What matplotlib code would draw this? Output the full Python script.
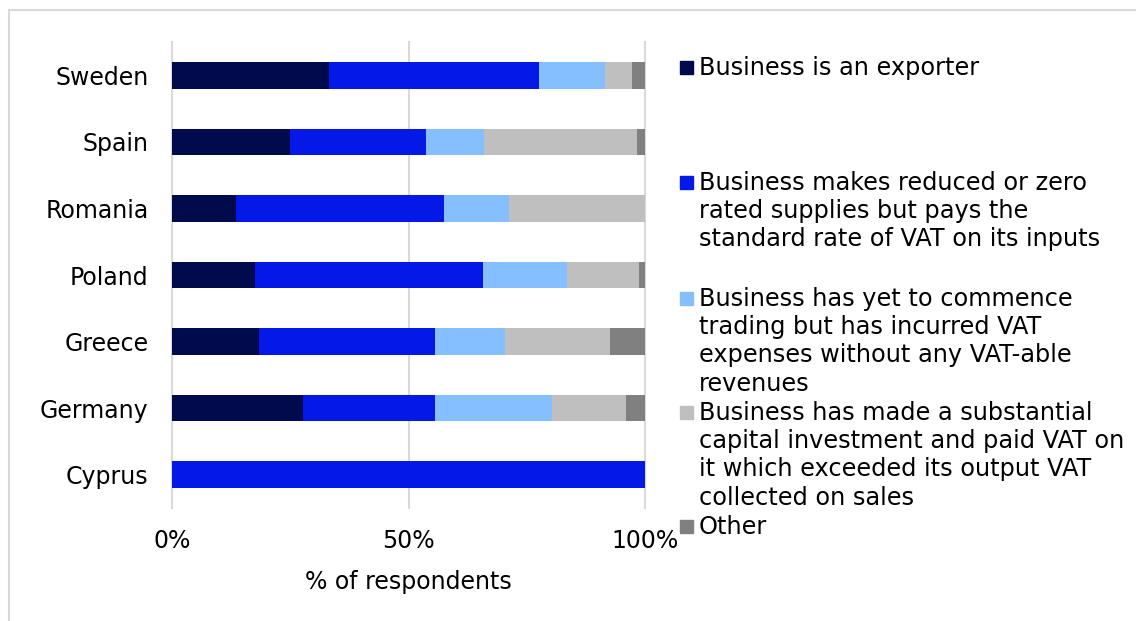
import numpy as np
import matplotlib.pyplot as plt
from matplotlib.patches import Rectangle

# data (% of respondents)
countries = ['Sweden', 'Spain', 'Romania', 'Poland', 'Greece', 'Germany', 'Cyprus']
exporter = [33.2, 24.9, 13.6, 17.6, 18.3, 27.8, 0.0]
reduced_rate = [44.4, 28.9, 43.9, 48.2, 37.2, 27.8, 100.0]
not_trading = [13.9, 12.2, 13.7, 17.7, 14.8, 24.8, 0.0]
capital_inv = [5.8, 32.4, 28.8, 15.3, 22.4, 15.6, 0.0]
other = [2.7, 1.6, 0.0, 1.2, 7.3, 4.0, 0.0]

series_labels = [
    'Business is an exporter',
    'Business makes reduced or zero\nrated supplies but pays the\nstandard rate of VAT on its inputs',
    'Business has yet to commence\ntrading but has incurred VAT\nexpenses without any VAT-able\nrevenues',
    'Business has made a substantial\ncapital investment and paid VAT on\nit which exceeded its output VAT\ncollected on sales',
    'Other',
]
colors = ['#000A4C', '#0418E8', '#86BFFF', '#BFBFBF', '#808080']

W, H = 1136, 621
fig = plt.figure(figsize=(W / 100, H / 100), dpi=100)
plt.rcParams['font.family'] = 'DejaVu Sans'

def fx(px):
    return px / W

def fy(py):
    return 1 - py / H

ax = fig.add_axes([fx(172), fy(508), fx(645) - fx(172), fy(42) - fy(508)])

ypos = np.arange(len(countries))
left = np.zeros(len(countries))
all_series = [exporter, reduced_rate, not_trading, capital_inv, other]
for vals, col in zip(all_series, colors):
    vals = np.array(vals)
    ax.barh(ypos, vals, left=left, height=0.4, color=col, edgecolor='none', zorder=3)
    left += vals

ax.set_xlim(0, 100)
ax.set_ylim(len(countries) - 0.5, -0.5)
ax.set_yticks(ypos)
ax.set_yticklabels(countries, fontsize=17)
ax.set_xticks([0, 50, 100])
ax.set_xticklabels(['0%', '50%', '100%'], fontsize=17)
ax.tick_params(axis='y', length=0, pad=17)
ax.tick_params(axis='x', length=0, pad=15)
ax.set_xlabel('% of respondents', fontsize=17, labelpad=12)
# gridlines (not clipped at the axis edges)
for xv in [0, 50, 100]:
    ax.axvline(xv, color='#D9D9D9', linewidth=1.5, zorder=0, clip_on=False)
for s in ax.spines.values():
    s.set_visible(False)

# legend drawn by hand so that the first lines are evenly spaced
first_line_y = [67, 182, 298, 412, 526]
for lab, col, yy in zip(series_labels, colors, first_line_y):
    fig.add_artist(Rectangle((fx(680), fy(yy + 6.5)), fx(13), 13 / H,
                             transform=fig.transFigure, color=col))
    fig.text(fx(699), fy(yy - 11), lab, fontsize=17.3, va='top', ha='left',
             linespacing=1.22)

# outer frame
fig.add_artist(Rectangle((fx(9), -0.1), 1.2, fy(10) + 0.1, transform=fig.transFigure,
                         fill=False, edgecolor='#D9D9D9', linewidth=1.5, clip_on=False))

fig.savefig('out.png', dpi=100)
